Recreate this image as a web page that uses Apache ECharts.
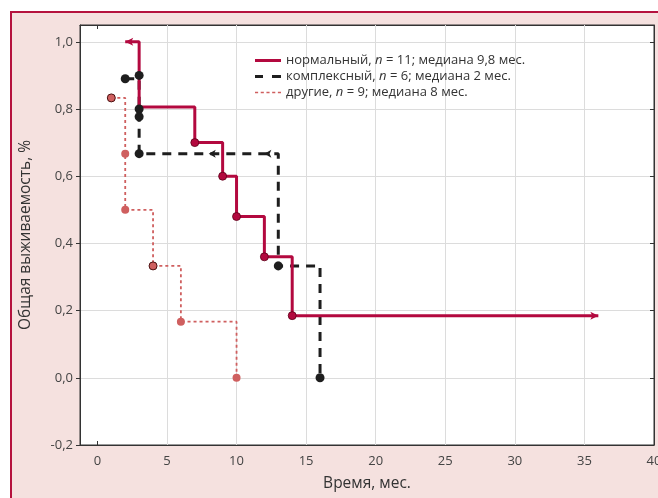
<!DOCTYPE html>
<html><head><meta charset="utf-8">
<script src="https://cdn.jsdelivr.net/npm/echarts@6/dist/echarts.min.js"></script>
<style>html,body{margin:0;padding:0;background:#fff}#c{width:658px;height:498px}</style>
</head><body><div id="c"></div>
<script>
// Data
const xTicks = [0, 5, 10, 15, 20, 25, 30, 35, 40];
const yTicks = [-0.2, 0, 0.2, 0.4, 0.6, 0.8, 1.0];
const seriesNames = ['нормальный', 'комплексный', 'другие'];
const seriesN = [11, 6, 9];
const seriesMedian = ['9,8', '2', '8'];

// нормальный: step curve
const normalX = [2, 3, 7, 9, 10, 12, 14, 36];
const normalY = [1.0, 0.806, 0.70, 0.60, 0.48, 0.36, 0.185, 0.185];
const normalDotX = [7, 9, 10, 12, 14];
const normalDotY = [0.70, 0.60, 0.48, 0.36, 0.185];
const normalArrowX = [2, 36];
const normalArrowY = [1.0, 0.185];

// комплексный
const complexX = [2, 3, 13, 16];
const complexY = [0.89, 0.667, 0.333, 0.0];
const complexDotX = [2, 3, 3, 3, 3, 13, 16];
const complexDotY = [0.89, 0.90, 0.80, 0.777, 0.667, 0.333, 0.0];
const complexArrowX = [8, 12];
const complexArrowY = [0.667, 0.667];

// другие
const otherX = [1, 2, 4, 6, 10];
const otherY = [0.833, 0.5, 0.333, 0.167, 0.0];
const otherDotX = [1, 2, 2, 4, 6, 10];
const otherDotY = [0.833, 0.667, 0.5, 0.333, 0.167, 0.0];
const otherDotOutlined = [true, false, false, true, false, false];

const RED = '#b3093f', BLACK = '#1e1e1e', PINK = '#cf5f5f';
const zip = (a, b) => a.map((v, i) => [v, b[i]]);
const FONT = 'Open Sans';

const legendIcons = [
  'path://M0,0h26v3h-26z',
  'path://M0,0h8v3h-8z M17,0h9v3h-9z',
  'path://M0,0h3v1.5h-3z M5.5,0h3v1.5h-3z M11,0h3v1.5h-3z M16.5,0h3v1.5h-3z M22,0h3v1.5h-3z'
];

const chart = echarts.init(document.getElementById('c'), null, {renderer: 'canvas'});
const legendText = {};
seriesNames.forEach((n, i) => {
  legendText[n] = '{a|' + n + ', }{i|n}{a| = ' + seriesN[i] + '; медиана ' + seriesMedian[i] + ' мес.}';
});

chart.setOption({
  animation: false,
  backgroundColor: '#ffffff',
  textStyle: {fontFamily: FONT},
  graphic: [{
    type: 'rect', z: -100, silent: true,
    shape: {x: 11, y: 12, width: 700, height: 600},
    style: {fill: '#f5e1df', stroke: '#b5123e', lineWidth: 2}
  }],
  grid: {left: 80, right: 4, top: 25, bottom: 53, outerBoundsMode: 'none', containLabel: false,
    show: true, backgroundColor: '#ffffff', borderColor: '#333', borderWidth: 1},
  legend: {
    orient: 'vertical', left: 250, top: 49, itemGap: 3, itemWidth: 26, itemHeight: 3,
    data: seriesNames.map((n, i) => ({name: n, icon: legendIcons[i]})),
    formatter: n => legendText[n],
    textStyle: {
      fontFamily: FONT, fontSize: 13, color: '#333',
      rich: {
        a: {fontFamily: FONT, fontSize: 13, color: '#333'},
        i: {fontFamily: FONT, fontSize: 13, color: '#333', fontStyle: 'italic'}
      }
    }
  },
  xAxis: [{
    type: 'value', min: -1.25, max: 40, position: 'bottom',
    name: 'Время, мес.', nameLocation: 'middle', nameGap: 31,
    nameTextStyle: {fontFamily: FONT, fontSize: 15.5, color: '#333'},
    axisLine: {show: true, onZero: false, lineStyle: {color: '#333'}},
    axisTick: {show: true, inside: true, length: 4, customValues: xTicks, lineStyle: {color: '#333'}},
    axisLabel: {customValues: xTicks, fontFamily: FONT, fontSize: 13, color: '#444', margin: 10},
    splitLine: {show: false}
  }, {
    type: 'value', min: -1.25, max: 40, position: 'top',
    axisLine: {show: true, onZero: false, lineStyle: {color: '#333'}},
    axisTick: {show: true, inside: true, length: 4, customValues: xTicks, lineStyle: {color: '#333'}},
    axisLabel: {show: false, customValues: xTicks},
    splitLine: {show: false}
  }],
  yAxis: [{
    type: 'value', min: -0.2, max: 1.05, interval: 0.2, position: 'left',
    name: 'Общая выживаемость, %', nameLocation: 'middle', nameGap: 46,
    nameTextStyle: {fontFamily: FONT, fontSize: 15.5, color: '#333'},
    axisLine: {show: true, onZero: false, lineStyle: {color: '#333'}},
    axisTick: {show: true, inside: false, length: 4, lineStyle: {color: '#333'}},
    axisLabel: {fontFamily: FONT, fontSize: 13, color: '#444', margin: 7, showMaxLabel: false,
      formatter: v => (Math.abs(v) < 1e-9 ? 0 : v).toFixed(1).replace('.', ',')},
    splitLine: {show: true, showMaxLine: false, lineStyle: {color: '#dcdcdc', width: 1}}
  }, {
    type: 'value', min: -0.2, max: 1.05, interval: 0.2, position: 'right',
    axisLine: {show: true, onZero: false, lineStyle: {color: '#333'}},
    axisTick: {show: true, inside: true, length: 4, lineStyle: {color: '#333'}},
    axisLabel: {show: false},
    splitLine: {show: false}
  }],
  series: [
    {name: seriesNames[0], type: 'line', step: 'end', data: zip(normalX, normalY), symbol: 'none',
      itemStyle: {color: RED}, lineStyle: {color: RED, width: 3}, z: 5},
    {name: seriesNames[1], type: 'line', step: 'end', data: zip(complexX, complexY), symbol: 'none',
      itemStyle: {color: BLACK}, lineStyle: {color: BLACK, width: 3, type: [9, 7]}, z: 4},
    {name: seriesNames[2], type: 'line', step: 'end', data: zip(otherX, otherY), symbol: 'none',
      itemStyle: {color: PINK}, lineStyle: {color: PINK, width: 1.8, type: [3, 3]}, z: 3},
    {type: 'scatter', data: [], z: 1, silent: true,
      markLine: {silent: true, z: 1, symbol: 'none', label: {show: false}, animation: false,
        lineStyle: {color: '#dcdcdc', width: 1, type: 'solid'},
        data: xTicks.filter(v => v > 0 && v < 40).map(v => ({xAxis: v}))}},
    {type: 'scatter', data: zip(normalDotX, normalDotY), symbolSize: 8,
      itemStyle: {color: RED, borderColor: '#5a0018', borderWidth: 0.8, opacity: 1}, z: 6},
    {type: 'scatter', data: zip(normalArrowX, normalArrowY).map((p, i) => ({value: p, symbolRotate: i === 0 ? 90 : -90})),
      symbol: 'arrow', symbolSize: [6, 8], itemStyle: {color: RED, opacity: 1}, z: 6},
    {type: 'scatter', data: zip(complexDotX, complexDotY), symbolSize: 9,
      itemStyle: {color: BLACK, opacity: 1}, z: 7},
    {type: 'scatter', data: zip(complexArrowX, complexArrowY), symbol: 'arrow', symbolRotate: 90,
      symbolSize: [6, 7], itemStyle: {color: BLACK, opacity: 1}, z: 7},
    {type: 'scatter', data: zip(otherDotX, otherDotY).map((p, i) => ({value: p,
      itemStyle: otherDotOutlined[i] ? {borderColor: '#4a1010', borderWidth: 1} : {borderWidth: 0}})),
      symbolSize: 8, itemStyle: {color: PINK, opacity: 1}, z: 5}
  ]
});
</script></body></html>
